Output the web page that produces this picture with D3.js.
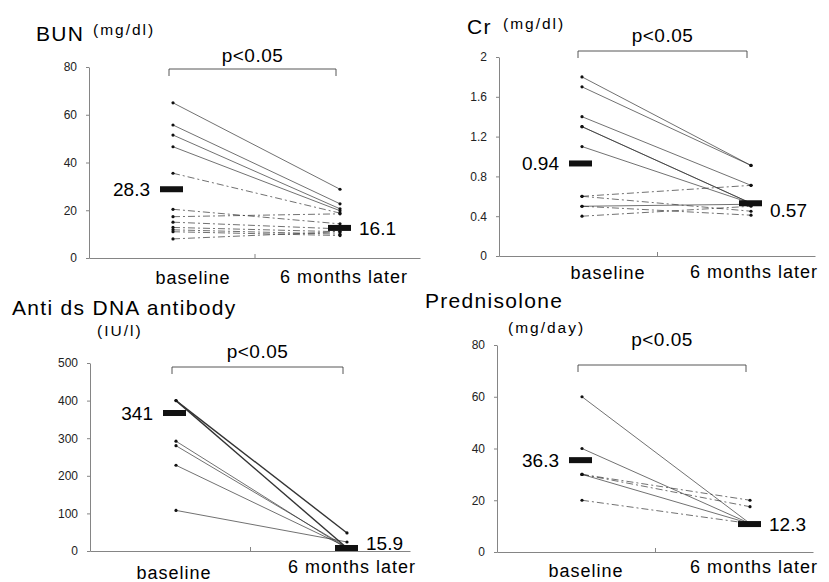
<!DOCTYPE html>
<html>
<head>
<meta charset="utf-8">
<script src="https://cdn.jsdelivr.net/npm/d3@7"></script>
<style>
  body { margin: 0; background: #fff; }
  svg { font-family: "Liberation Sans", Arial, sans-serif; }
  .tick text { font-size: 12px; fill: #222; }
  .tick line, .domain { stroke: #666; stroke-width: 0.8; }
</style>
</head>
<body>
<svg id="chart" width="829" height="582"></svg>
<script>
const groups = ['baseline', '6 months later'];

// BUN (mg/dl)
const bunBaseline = [65, 55.7, 51.5, 46.6, 35.5, 20.4, 17.3, 15, 12.8, 11.8, 11, 8];
const bunLater = [28.8, 22.7, 20.6, 19.8, 18.8, 14.3, 18.5, 12.2, 11, 10, 9.4, 11];
const bunDashed = [4, 5, 6, 7, 8, 9, 10, 11];
const bunMeans = [28.8, 12.6];
const bunMeanLabels = ['28.3', '16.1'];
const bunTicks = [0, 20, 40, 60, 80];

// Cr (mg/dl)
const crBaseline = [1.8, 1.7, 1.4, 1.3, 1.3, 1.1, 0.6, 0.6, 0.5, 0.5, 0.4];
const crLater = [0.91, 0.91, 0.71, 0.53, 0.53, 0.53, 0.71, 0.45, 0.52, 0.41, 0.5];
const crDashed = [6, 7, 9, 10];
const crMeans = [0.93, 0.53];
const crMeanLabels = ['0.94', '0.57'];
const crTicks = [0, 0.4, 0.8, 1.2, 1.6, 2];

// Anti ds DNA antibody (IU/l)
const dnaBaseline = [400, 400, 292, 280, 228, 108];
const dnaLater = [48, 8, 6, 10, 10, 24];
const dnaDashed = [];
const dnaMeans = [367, 8];
const dnaMeanLabels = ['341', '15.9'];
const dnaTicks = [0, 100, 200, 300, 400, 500];

// Prednisolone (mg/day)
const predBaseline = [60, 40, 30, 30, 30, 20];
const predLater = [11, 11, 20, 17.5, 11, 11];
const predDashed = [2, 3, 5];
const predMeans = [35.5, 10.8];
const predMeanLabels = ['36.3', '12.3'];
const predTicks = [0, 20, 40, 60, 80];

const panels = [
  { title: 'BUN', unit: '(mg/dl)', unitX: 93, unitY: 35, titleX: 36, titleY: 41,
    base: bunBaseline, later: bunLater, dashed: bunDashed, means: bunMeans, labels: bunMeanLabels,
    ticks: bunTicks, fmt: d3.format('d'), max: 80,
    axisX: 89, y0: 258, yTop: 67, xb: 173, x6: 340, xEnd: 420, bracketY: 69, pY: 62,
    lbl: [[20, 26], [4, 25]], meanDy: [7, 7] },
  { title: 'Cr', unit: '(mg/dl)', unitX: 503, unitY: 29, titleX: 467, titleY: 34,
    base: crBaseline, later: crLater, dashed: crDashed, means: crMeans, labels: crMeanLabels,
    ticks: crTicks, fmt: (d) => (d === 0 || d === 2 ? String(d) : d3.format('.1f')(d)), max: 2,
    axisX: 499, y0: 256, yTop: 57, xb: 582, x6: 751, xEnd: 815, bracketY: 51, pY: 42,
    lbl: [[26, 23], [3, 22]], meanDy: [7, 14] },
  { title: 'Anti ds DNA antibody', unit: '(IU/l)', unitX: 97, unitY: 336, titleX: 12, titleY: 315,
    base: dnaBaseline, later: dnaLater, dashed: dnaDashed, means: dnaMeans, labels: dnaMeanLabels,
    ticks: dnaTicks, fmt: d3.format('d'), max: 500,
    axisX: 90, y0: 551, yTop: 363, xb: 176, x6: 347, xEnd: 410, bracketY: 367, pY: 358,
    lbl: [[-2, 28], [5, 22]], meanDy: [7, 2] },
  { title: 'Prednisolone', unit: '(mg/day)', unitX: 508, unitY: 333, titleX: 425, titleY: 308,
    base: predBaseline, later: predLater, dashed: predDashed, means: predMeans, labels: predMeanLabels,
    ticks: predTicks, fmt: d3.format('d'), max: 80,
    axisX: 497, y0: 552, yTop: 345, xb: 582, x6: 750, xEnd: 813, bracketY: 365, pY: 346,
    lbl: [[4, 25], [4, 21]], meanDy: [7, 7] },
];

const svg = d3.select('#chart');

panels.forEach((p) => {
  const g = svg.append('g');
  const y = d3.scaleLinear().domain([0, p.max]).range([p.y0, p.yTop]);
  const x = d3.scalePoint().domain(groups).range([p.xb, p.x6]);
  const xLine = d3.scaleLinear().domain([0, 1]).range([p.axisX, p.xEnd]);

  // y axis
  g.append('g')
    .attr('transform', `translate(${p.axisX},0)`)
    .call(d3.axisLeft(y).tickValues(p.ticks).tickFormat(p.fmt).tickSize(3).tickSizeOuter(0).tickPadding(9));

  // x axis line with a single middle tick
  g.append('g')
    .attr('transform', `translate(0,${p.y0})`)
    .call(d3.axisBottom(xLine).tickValues([0.5]).tickFormat('').tickSize(-4).tickSizeOuter(0));

  // group labels
  g.selectAll('.grp')
    .data(groups)
    .join('text')
    .attr('class', 'grp')
    .attr('x', (d, i) => x(d) + p.lbl[i][0])
    .attr('y', (d, i) => p.y0 + p.lbl[i][1])
    .attr('text-anchor', 'middle')
    .style('font-size', '18px')
    .style('letter-spacing', '1px')
    .text((d) => d);

  // title + unit
  g.append('text')
    .attr('x', p.titleX).attr('y', p.titleY)
    .style('font-size', '21px').style('letter-spacing', '1.3px')
    .text(p.title);
  g.append('text')
    .attr('x', p.unitX).attr('y', p.unitY)
    .style('font-size', '15.5px').style('letter-spacing', '2px')
    .text(p.unit);

  // significance bracket
  const bx0 = x(groups[0]) - 4;
  const bx1 = x(groups[1]) - 4;
  g.append('path')
    .attr('d', `M${bx0},${p.bracketY + 7}V${p.bracketY}H${bx1}V${p.bracketY + 7}`)
    .attr('fill', 'none')
    .attr('stroke', '#444')
    .attr('stroke-width', 0.9);
  g.append('text')
    .attr('x', (bx0 + bx1) / 2).attr('y', p.pY)
    .attr('text-anchor', 'middle')
    .style('font-size', '19px').style('letter-spacing', '0.5px')
    .text('p<0.05');

  // subject lines
  const pairs = p.base.map((b, i) => ({ b, l: p.later[i], dashed: p.dashed.includes(i) }));
  g.selectAll('.subj')
    .data(pairs)
    .join('line')
    .attr('class', 'subj')
    .attr('x1', x(groups[0])).attr('y1', (d) => y(d.b))
    .attr('x2', x(groups[1])).attr('y2', (d) => y(d.l))
    .attr('stroke', '#333')
    .attr('stroke-width', (d) => (p.title.startsWith('Anti') && d.b === 400 ? 1.4 : 0.7))
    .attr('stroke-dasharray', (d) => (d.dashed ? '7,3,2,3' : null));

  const dots = pairs.flatMap((d) => [[groups[0], d.b], [groups[1], d.l]]);
  g.selectAll('.dot')
    .data(dots)
    .join('circle')
    .attr('class', 'dot')
    .attr('cx', (d) => x(d[0]))
    .attr('cy', (d) => y(d[1]))
    .attr('r', 1.6)
    .attr('fill', '#111');

  // mean bars
  g.selectAll('.mean')
    .data(p.means)
    .join('rect')
    .attr('class', 'mean')
    .attr('x', (d, i) => x(groups[i]) - (i === 0 ? 13 : 12))
    .attr('y', (d) => y(d) - 3)
    .attr('width', 23)
    .attr('height', 6)
    .attr('fill', '#111');

  g.selectAll('.mlabel')
    .data(p.means)
    .join('text')
    .attr('class', 'mlabel')
    .attr('x', (d, i) => (i === 0 ? x(groups[0]) - 23 : x(groups[1]) + 19))
    .attr('y', (d, i) => y(d) + p.meanDy[i])
    .attr('text-anchor', (d, i) => (i === 0 ? 'end' : 'start'))
    .style('font-size', '19px')
    .text((d, i) => p.labels[i]);
});
</script>
</body>
</html>
